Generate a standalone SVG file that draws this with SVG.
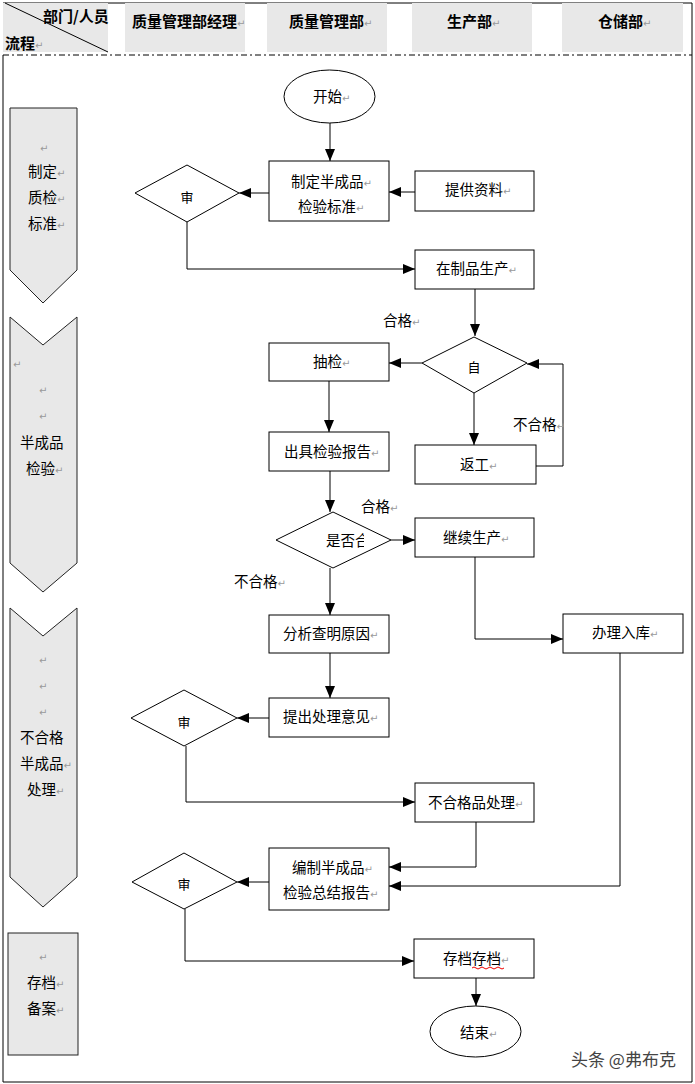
<svg xmlns="http://www.w3.org/2000/svg" width="695" height="1084" viewBox="0 0 695 1084">
<defs>
<marker id="arr" markerWidth="12" markerHeight="10" refX="12" refY="5" orient="auto" markerUnits="userSpaceOnUse"><path d="M0,0 L12,5 L0,10 z" fill="#000"/></marker>
<clipPath id="clipq"><rect x="270" y="520" width="94" height="40"/></clipPath>
</defs>
<style>
text{font-family:"Noto Sans CJK SC","Noto Sans",sans-serif;font-size:14.5px;fill:#000}
.h{font-weight:bold;font-size:15px}
.r{font-family:"DejaVu Sans",sans-serif;font-size:10px;fill:#999;font-weight:normal}
.box{fill:#fff;stroke:#000;stroke-width:1}
.lane{fill:#e8e8e8;stroke:#222;stroke-width:1}
.hc{fill:#e8e8e8}
.c{fill:none;stroke:#000;stroke-width:1}
.ca{fill:none;stroke:#000;stroke-width:1;marker-end:url(#arr)}
.s{font-size:13px}
.wm{font-size:17px;fill:#444;stroke:#fff;stroke-width:3;paint-order:stroke}
</style>
<rect width="695" height="1084" fill="#fff"/>
<g id="frame">
<line x1="3" y1="3" x2="692" y2="3" stroke="#000"/>
<line x1="692" y1="3" x2="692" y2="1082" stroke="#000"/>
<line x1="3" y1="1082" x2="692" y2="1082" stroke="#000"/>
<line x1="3" y1="55" x2="3" y2="1082" stroke="#000"/>
<line x1="3" y1="55" x2="692" y2="55" stroke="#000" stroke-dasharray="6,3,2,3"/>
</g>
<g id="header">
<rect class="hc" x="3" y="3" width="105" height="49"/>
<line x1="5" y1="3" x2="108" y2="52" stroke="#000"/>
<text class="h" x="43" y="22">部门/人员</text>
<text class="h" x="5" y="49">流程<tspan class="r">↵</tspan></text>
<rect class="hc" x="125" y="3" width="120" height="49"/>
<text class="h" x="132" y="27">质量管理部经理<tspan class="r">↵</tspan></text>
<rect class="hc" x="267" y="3" width="120" height="49"/>
<text class="h" x="289" y="27">质量管理部<tspan class="r">↵</tspan></text>
<rect class="hc" x="412" y="3" width="120" height="49"/>
<text class="h" x="447" y="27">生产部<tspan class="r">↵</tspan></text>
<rect class="hc" x="562" y="3" width="121" height="49"/>
<text class="h" x="598" y="27">仓储部<tspan class="r">↵</tspan></text>
</g>
<g id="lane1">
<path class="lane" d="M10,108 H77 V270 L43,303 L10,270 Z"/>
<text x="40" y="152" class="r">↵</text>
<text x="28" y="177">制定<tspan class="r">↵</tspan></text>
<text x="28" y="203">质检<tspan class="r">↵</tspan></text>
<text x="28" y="229">标准<tspan class="r">↵</tspan></text>
</g>
<g id="lane2">
<path class="lane" d="M10,317 L43,345 L77,317 V563 L43,592 L10,563 Z"/>
<text x="13" y="368" class="r">↵</text>
<text x="39" y="394" class="r">↵</text>
<text x="39" y="420" class="r">↵</text>
<text x="20" y="448">半成品</text>
<text x="26" y="474">检验<tspan class="r">↵</tspan></text>
</g>
<g id="lane3">
<path class="lane" d="M10,608 L43,636 L77,608 V877 L43,907 L10,877 Z"/>
<text x="39" y="664" class="r">↵</text>
<text x="39" y="690" class="r">↵</text>
<text x="39" y="716" class="r">↵</text>
<text x="20" y="743">不合格</text>
<text x="20" y="769">半成品<tspan class="r">↵</tspan></text>
<text x="27" y="795">处理<tspan class="r">↵</tspan></text>
</g>
<g id="lane4">
<rect class="lane" x="8" y="933" width="70" height="122"/>
<text x="39" y="961" class="r">↵</text>
<text x="27" y="988">存档<tspan class="r">↵</tspan></text>
<text x="27" y="1014">备案<tspan class="r">↵</tspan></text>
</g>
<g id="connectors">
<path class="ca" d="M330,123 V161"/>
<path class="ca" d="M415,192 H389"/>
<path class="ca" d="M269,193 H239"/>
<path class="ca" d="M187,222 V269 H415"/>
<path class="ca" d="M475,289 V336"/>
<path class="ca" d="M422,363 H389"/>
<path class="ca" d="M474,393 V445"/>
<path class="ca" d="M536,466 H563 V364 H527"/>
<path class="ca" d="M329,381 V432"/>
<path class="ca" d="M330,471 V512"/>
<path class="ca" d="M391,540 H415"/>
<path class="ca" d="M330,568 V615"/>
<path class="ca" d="M475,557 V639 H563"/>
<path class="ca" d="M620,653 V886 H389"/>
<path class="ca" d="M330,653 V698"/>
<path class="ca" d="M269,718 H237"/>
<path class="ca" d="M186,746 V802 H415"/>
<path class="ca" d="M476,822 V867 H389"/>
<path class="ca" d="M269,882 H237"/>
<path class="ca" d="M185,909 V961 H414"/>
<path class="ca" d="M476,978 V1006"/>
</g>
<g id="labels">
<text x="383" y="326">合格<tspan class="r">↵</tspan></text>
<text x="513" y="430">不合格<tspan class="r">↵</tspan></text>
<text x="361" y="512">合格<tspan class="r">↵</tspan></text>
<text x="234" y="587">不合格<tspan class="r">↵</tspan></text>
</g>
<g id="start">
<ellipse class="box" cx="329.5" cy="96.5" rx="45.5" ry="26.5"/>
<text x="313" y="102">开始<tspan class="r">↵</tspan></text>
</g>
<g id="n_standard">
<rect class="box" x="269" y="161" width="120" height="60"/>
<text x="291" y="187">制定半成品<tspan class="r">↵</tspan></text>
<text x="298" y="212">检验标准<tspan class="r">↵</tspan></text>
</g>
<g id="n_info">
<rect class="box" x="415" y="171" width="119" height="40"/>
<text x="445" y="195">提供资料<tspan class="r">↵</tspan></text>
</g>
<g id="d_review1">
<path class="box" d="M135,193 L187,165 L239,193 L187,222 Z"/>
<text class="s" x="187" y="202" text-anchor="middle">审</text>
</g>
<g id="n_wip">
<rect class="box" x="415" y="250" width="119" height="39"/>
<text x="436" y="274">在制品生产<tspan class="r">↵</tspan></text>
</g>
<g id="d_self">
<path class="box" d="M422,363 L474,337 L527,363 L474,393 Z"/>
<text class="s" x="474" y="372" text-anchor="middle">自</text>
</g>
<g id="n_sample">
<rect class="box" x="269" y="343" width="120" height="38"/>
<text x="313" y="367">抽检<tspan class="r">↵</tspan></text>
</g>
<g id="n_rework">
<rect class="box" x="415" y="445" width="121" height="39"/>
<text x="460" y="470">返工<tspan class="r">↵</tspan></text>
</g>
<g id="n_report">
<rect class="box" x="269" y="432" width="120" height="39"/>
<text x="284" y="457">出具检验报告<tspan class="r">↵</tspan></text>
</g>
<g id="d_pass">
<path class="box" d="M276,540 L333,512 L391,540 L333,568 Z"/>
<text x="326" y="546" clip-path="url(#clipq)">是否合</text>
</g>
<g id="n_continue">
<rect class="box" x="415" y="518" width="119" height="39"/>
<text x="443" y="543">继续生产<tspan class="r">↵</tspan></text>
</g>
<g id="n_analyze">
<rect class="box" x="269" y="615" width="120" height="38"/>
<text x="283" y="639">分析查明原因<tspan class="r">↵</tspan></text>
</g>
<g id="n_store">
<rect class="box" x="563" y="614" width="120" height="39"/>
<text x="592" y="638">办理入库<tspan class="r">↵</tspan></text>
</g>
<g id="n_propose">
<rect class="box" x="269" y="698" width="120" height="39"/>
<text x="283" y="722">提出处理意见<tspan class="r">↵</tspan></text>
</g>
<g id="d_review2">
<path class="box" d="M131,718 L184,690 L237,718 L184,746 Z"/>
<text class="s" x="184" y="727" text-anchor="middle">审</text>
</g>
<g id="n_handle">
<rect class="box" x="415" y="783" width="119" height="39"/>
<text x="428" y="808">不合格品处理<tspan class="r">↵</tspan></text>
</g>
<g id="n_summary">
<rect class="box" x="269" y="848" width="120" height="62"/>
<text x="292" y="873">编制半成品<tspan class="r">↵</tspan></text>
<text x="283" y="898">检验总结报告<tspan class="r">↵</tspan></text>
</g>
<g id="d_review3">
<path class="box" d="M132,882 L184,853 L237,882 L184,909 Z"/>
<text class="s" x="184" y="889" text-anchor="middle">审</text>
</g>
<g id="n_archive">
<rect class="box" x="414" y="939" width="120" height="39"/>
<text x="443" y="964">存档存档<tspan class="r">↵</tspan></text>
<path d="M472,968 q2,-2 4,0 t4,0 t4,0 t4,0 t4,0 t4,0 t4,0 t4,0" fill="none" stroke="#e00" stroke-width="1"/>
</g>
<g id="end">
<ellipse class="box" cx="475.5" cy="1031.5" rx="45.5" ry="25.5"/>
<text x="460" y="1038">结束<tspan class="r">↵</tspan></text>
</g>
<text class="wm" x="571" y="1066">头条 @弗布克</text>
</svg>
